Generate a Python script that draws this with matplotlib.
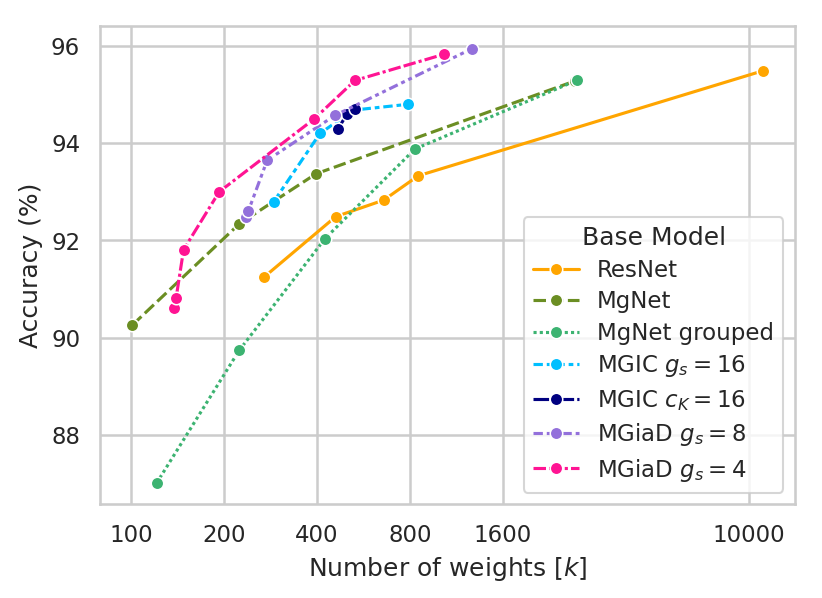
import numpy as np
import matplotlib
matplotlib.use("Agg")
import matplotlib.pyplot as plt
import seaborn as sns

sns.set_theme(style="whitegrid", context="notebook")

# data (weights in k, accuracy in %)
resnet_w = [270, 460, 658, 851, 11130]
resnet_acc = [91.25, 92.49, 92.83, 93.33, 95.49]

mgnet_w = [101, 224, 397, 2740]
mgnet_acc = [90.26, 92.34, 93.37, 95.28]

mgnet_grp_w = [121, 224, 425, 830, 2770]
mgnet_grp_acc = [87.01, 89.74, 92.04, 93.88, 95.29]

mgic_gs16_w = [290, 409, 525, 790]
mgic_gs16_acc = [92.80, 94.20, 94.68, 94.80]

mgic_ck16_w = [469, 499, 530]
mgic_ck16_acc = [94.30, 94.59, 94.70]

mgiad_gs8_w = [236, 240, 276, 457, 1267]
mgiad_gs8_acc = [92.48, 92.61, 93.65, 94.57, 95.94]

mgiad_gs4_w = [138, 140, 148, 193, 392, 531, 1033]
mgiad_gs4_acc = [90.62, 90.82, 91.81, 93.00, 94.50, 95.29, 95.83]

series = [
    ("ResNet", resnet_w, resnet_acc, "orange", ""),
    ("MgNet", mgnet_w, mgnet_acc, "olivedrab", (4, 1.5)),
    ("MgNet grouped", mgnet_grp_w, mgnet_grp_acc, "mediumseagreen", (1, 1)),
    (r"MGIC $g_s = 16$", mgic_gs16_w, mgic_gs16_acc, "deepskyblue", (3, 1.25, 1.5, 1.25)),
    (r"MGIC $c_K = 16$", mgic_ck16_w, mgic_ck16_acc, "navy", (5, 1, 1, 1)),
    (r"MGiaD $g_s = 8$", mgiad_gs8_w, mgiad_gs8_acc, "mediumpurple", (3, 1.25, 1.25, 1.25, 1.25, 1.25)),
    (r"MGiaD $g_s = 4$", mgiad_gs4_w, mgiad_gs4_acc, "deeppink", (4, 1, 4, 1, 1, 1)),
]

xticks = [100, 200, 400, 800, 1600, 10000]

fig, ax = plt.subplots(figsize=(5.48, 3.987), dpi=150)
fig.subplots_adjust(left=0.1217, right=0.967, top=0.9565, bottom=0.157)

for label, w, acc, col, dash in series:
    line, = ax.plot(w, acc, color=col, lw=1.5, marker="o", markersize=6,
                    markeredgecolor="white", markeredgewidth=0.75, label=label)
    if dash != "":
        line.set_dashes(dash)

ax.set_xscale("log")
ax.set_xticks(xticks)
ax.set_xticklabels([str(t) for t in xticks])
ax.minorticks_off()
ax.set_xlim(79.4, 14100)
ax.set_ylim(86.58, 96.41)
ax.set_yticks([88, 90, 92, 94, 96])
ax.grid(lw=1.2, color="#cccccc")
ax.set_xlabel("Number of weights [$k$]")
ax.set_ylabel("Accuracy (%)")
ax.legend(title="Base Model", loc="lower right", labelspacing=0.37)

plt.savefig("out.png", dpi=150)
